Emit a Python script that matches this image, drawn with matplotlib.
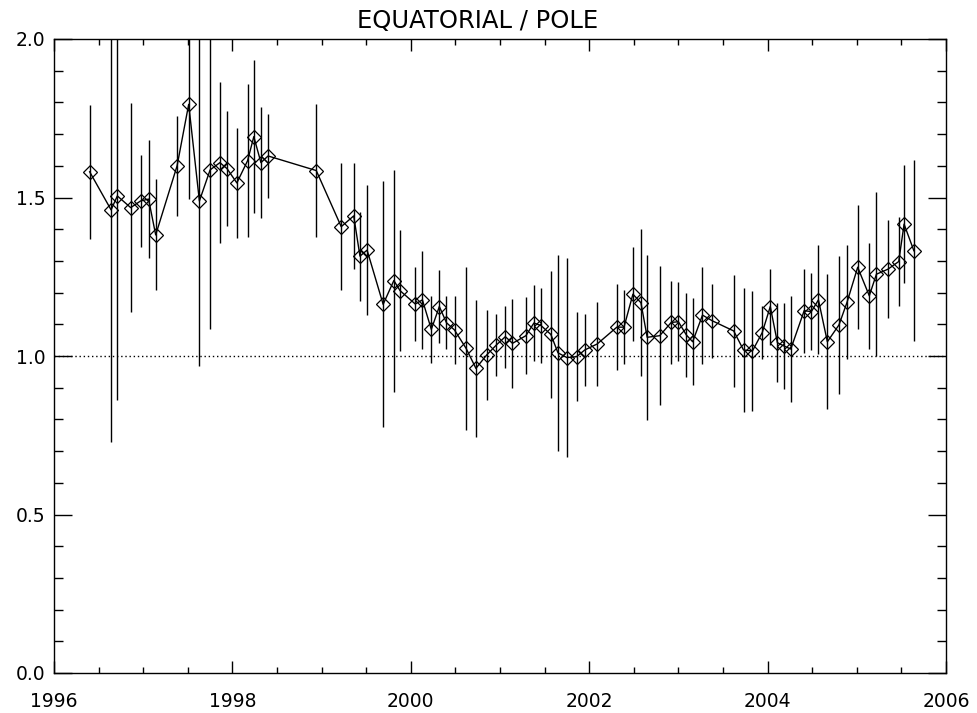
import numpy as np
import matplotlib
matplotlib.use("Agg")
import matplotlib.pyplot as plt
from matplotlib.ticker import MultipleLocator, FormatStrFormatter

# данные
years = [1996.40, 1996.64, 1996.71, 1996.86, 1996.97, 1997.06, 1997.14, 1997.38,
         1997.51, 1997.63, 1997.75, 1997.86, 1997.94, 1998.05, 1998.17, 1998.24,
         1998.32, 1998.40, 1998.94, 1999.22, 1999.36, 1999.43, 1999.51, 1999.69,
         1999.81, 1999.88, 2000.05, 2000.13, 2000.23, 2000.32, 2000.40, 2000.49,
         2000.62, 2000.73, 2000.85, 2000.96, 2001.06, 2001.14, 2001.29, 2001.38,
         2001.46, 2001.57, 2001.65, 2001.75, 2001.86, 2001.95, 2002.09, 2002.31,
         2002.39, 2002.49, 2002.58, 2002.65, 2002.79, 2002.92, 2003.00, 2003.09,
         2003.16, 2003.27, 2003.38, 2003.62, 2003.73, 2003.83, 2003.94, 2004.03,
         2004.11, 2004.18, 2004.26, 2004.41, 2004.49, 2004.57, 2004.67, 2004.80,
         2004.89, 2005.01, 2005.14, 2005.22, 2005.35, 2005.47, 2005.53, 2005.64]

ratio = [1.581, 1.461, 1.505, 1.468, 1.489, 1.495, 1.382, 1.600,
         1.794, 1.489, 1.587, 1.610, 1.591, 1.546, 1.616, 1.692,
         1.610, 1.631, 1.585, 1.408, 1.442, 1.315, 1.334, 1.163,
         1.238, 1.206, 1.164, 1.177, 1.084, 1.156, 1.105, 1.082,
         1.024, 0.961, 1.003, 1.035, 1.061, 1.040, 1.064, 1.104,
         1.096, 1.068, 1.010, 0.995, 0.998, 1.019, 1.038, 1.091,
         1.091, 1.195, 1.168, 1.059, 1.064, 1.106, 1.108, 1.066,
         1.045, 1.129, 1.111, 1.079, 1.019, 1.016, 1.074, 1.156,
         1.042, 1.032, 1.022, 1.143, 1.140, 1.177, 1.045, 1.098,
         1.169, 1.280, 1.190, 1.258, 1.274, 1.298, 1.416, 1.332]

err = [0.212, 0.732, 0.644, 0.330, 0.146, 0.185, 0.175, 0.157,
       0.298, 0.520, 0.503, 0.254, 0.181, 0.174, 0.242, 0.242,
       0.175, 0.131, 0.210, 0.200, 0.168, 0.140, 0.205, 0.388,
       0.350, 0.190, 0.118, 0.155, 0.105, 0.114, 0.084, 0.108,
       0.258, 0.215, 0.141, 0.099, 0.098, 0.141, 0.122, 0.120,
       0.118, 0.200, 0.310, 0.314, 0.141, 0.115, 0.132, 0.135,
       0.117, 0.149, 0.232, 0.260, 0.220, 0.130, 0.125, 0.133,
       0.137, 0.153, 0.116, 0.176, 0.197, 0.190, 0.085, 0.120,
       0.125, 0.135, 0.167, 0.132, 0.122, 0.172, 0.213, 0.217,
       0.180, 0.195, 0.168, 0.258, 0.154, 0.140, 0.187, 0.285]

title = "EQUATORIAL / POLE"

plt.rcParams['font.family'] = ['DejaVu Sans']

fig = plt.figure(figsize=(9.77, 7.13), dpi=100)
ax = fig.add_axes([54 / 977, 40 / 713, 892 / 977, 634 / 713])

# линия отсчёта
ax.axhline(1.0, color='black', lw=1.0, ls=(0, (1, 2)))

# ошибки и сама кривая
ax.errorbar(years, ratio, yerr=err, fmt='none', ecolor='black',
            elinewidth=1.0, capsize=0)
ax.plot(years, ratio, color='black', lw=1.0, marker='D', ms=7.3,
        mfc='none', mec='black', mew=0.9)

ax.set_xlim(1996, 2006)
ax.set_ylim(0.0, 2.0)

ax.xaxis.set_major_locator(MultipleLocator(2))
ax.xaxis.set_minor_locator(MultipleLocator(0.5))
ax.yaxis.set_major_locator(MultipleLocator(0.5))
ax.yaxis.set_minor_locator(MultipleLocator(0.1))
ax.xaxis.set_major_formatter(FormatStrFormatter('%d'))
ax.yaxis.set_major_formatter(FormatStrFormatter('%.1f'))

ax.tick_params(which='both', direction='in', top=True, right=True,
               width=1.0, colors='black', labelsize=13.5)
ax.tick_params(axis='x', which='major', length=8.6, pad=14)
ax.tick_params(axis='x', which='minor', length=4.3)
ax.tick_params(axis='y', which='major', length=13, pad=6)
ax.tick_params(axis='y', which='minor', length=6.5)

for s in ax.spines.values():
    s.set_linewidth(1.0)

fig.text(478 / 977, (713 - 28) / 713, title, ha='center', va='baseline',
         fontsize=17.5)

fig.savefig("out.png", dpi=100)
